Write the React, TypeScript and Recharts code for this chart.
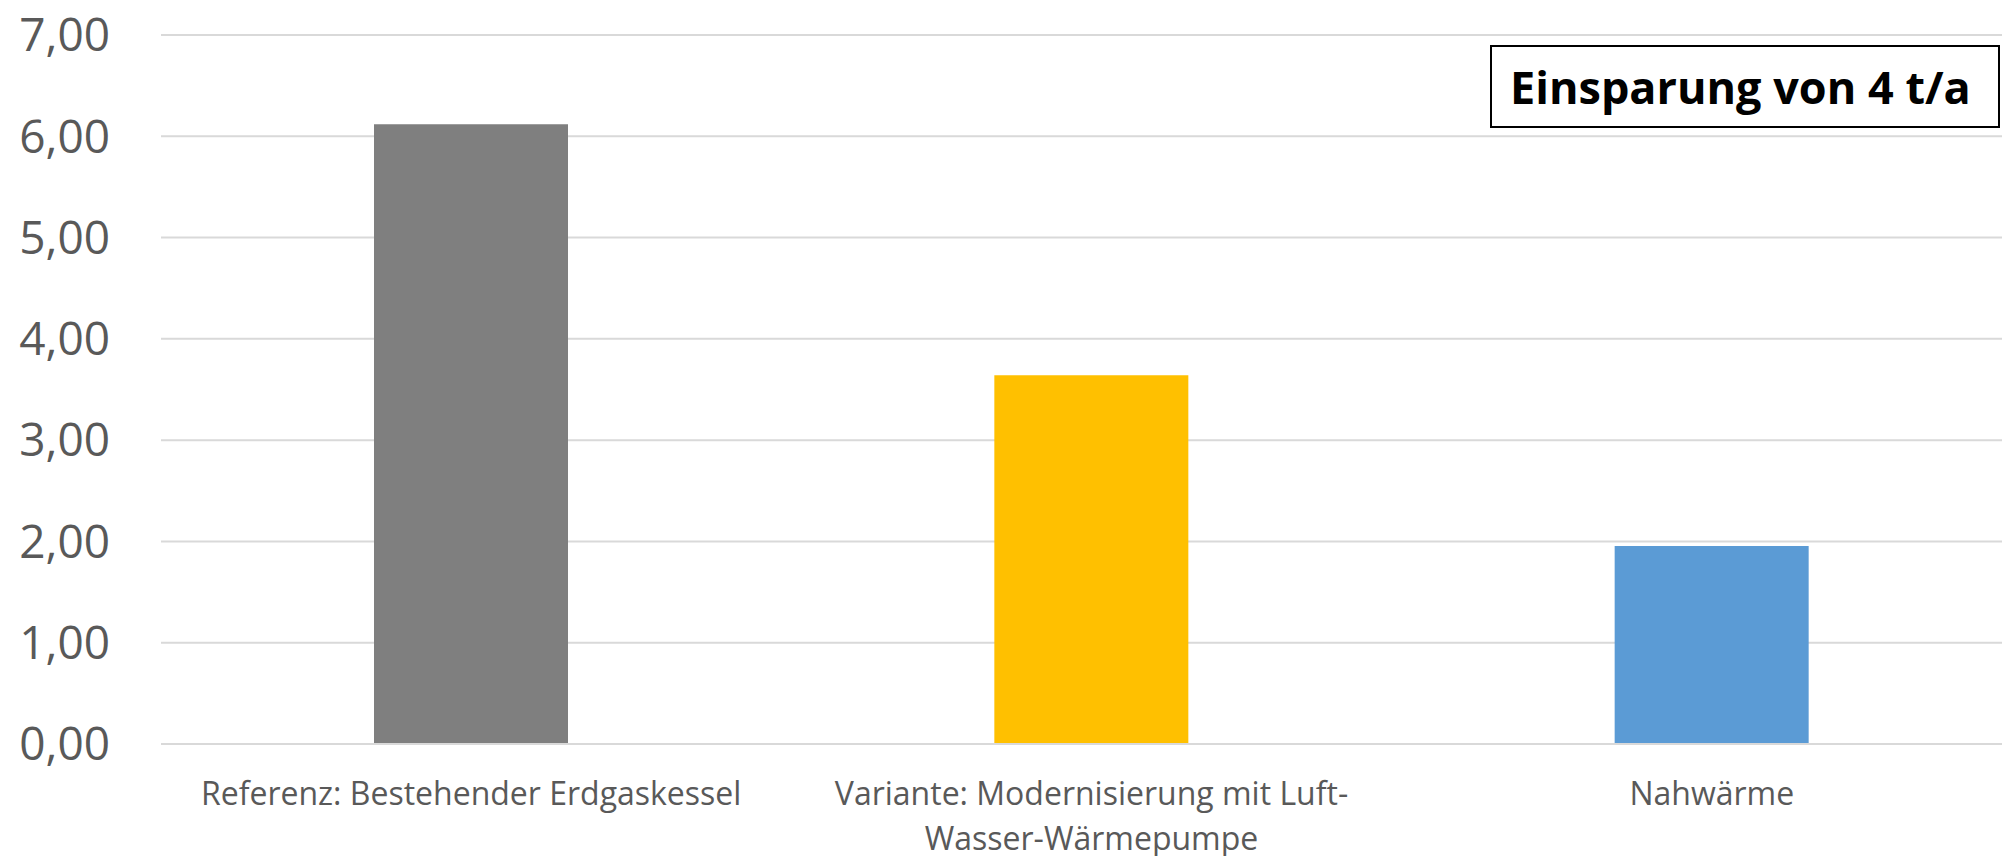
import React from "react";
import { BarChart, Bar, XAxis, YAxis, CartesianGrid, Cell } from "recharts";

const categories = [
  "Referenz: Bestehender Erdgaskessel",
  "Variante: Modernisierung mit Luft-\nWasser-Wärmepumpe",
  "Nahwärme",
];
const values = [6.12, 3.64, 1.955];
const barColors = ["#7f7f7f", "#ffc000", "#5b9bd5"];
const yTicks = [0, 1, 2, 3, 4, 5, 6, 7];
const boxText = "Einsparung von 4 t/a";

const data = categories.map((c, i) => ({ name: c, value: values[i] }));

const FONT = "'Open Sans', 'Noto Sans', sans-serif";

const CatTick = (props: any) => {
  const { x, y, payload } = props;
  const lines = String(payload.value).split("\n");
  return (
    <g>
      <text x={x} y={y} textAnchor="middle" fill="#595959" fontSize={32} fontFamily={FONT}>
        {lines.map((l: string, i: number) => (
          <tspan key={i} x={x} dy={i === 0 ? "0.355em" : 45}>
            {l}
          </tspan>
        ))}
      </text>
    </g>
  );
};

export default function App() {
  return (
    <div
      style={{
        position: "fixed",
        left: 0,
        top: 0,
        width: "100vw",
        height: "100vh",
        overflow: "hidden",
        background: "#fff",
      }}
    >
      <style>{`html,body{overflow:hidden;}`}</style>
      <div style={{ position: "absolute", left: 8, top: 8 }}>
        <BarChart
          width={2030}
          height={848}
          data={data}
          margin={{ top: 27, right: 16, bottom: 12, left: 0 }}
          barSize={194}
        >
          <CartesianGrid vertical={false} stroke="#d9d9d9" strokeWidth={2} />
          <XAxis
            dataKey="name"
            tick={<CatTick />}
            tickLine={false}
            tickSize={0}
            tickMargin={50}
            height={100}
            interval={0}
            axisLine={{ stroke: "#d9d9d9", strokeWidth: 2 }}
          />
          <YAxis
            domain={[0, 7]}
            ticks={yTicks}
            width={153}
            axisLine={false}
            tickLine={false}
            tickSize={0}
            tickMargin={51}
            tickFormatter={(v: number) => v.toFixed(2).replace(".", ",")}
            tick={{ fill: "#595959", fontSize: 46, fontFamily: FONT }}
          />
          <Bar dataKey="value" isAnimationActive={false}>
            {data.map((d, i) => (
              <Cell key={i} fill={barColors[i]} />
            ))}
          </Bar>
        </BarChart>
      </div>
      <div
        style={{
          position: "absolute",
          left: 1490,
          top: 45,
          width: 510,
          height: 83,
          boxSizing: "border-box",
          border: "2px solid #000",
          background: "#fff",
          display: "flex",
          alignItems: "center",
          paddingLeft: 18,
          fontFamily: FONT,
          fontWeight: 700,
          fontSize: 45,
          color: "#000",
          whiteSpace: "nowrap",
        }}
      >
        {boxText}
      </div>
    </div>
  );
}
